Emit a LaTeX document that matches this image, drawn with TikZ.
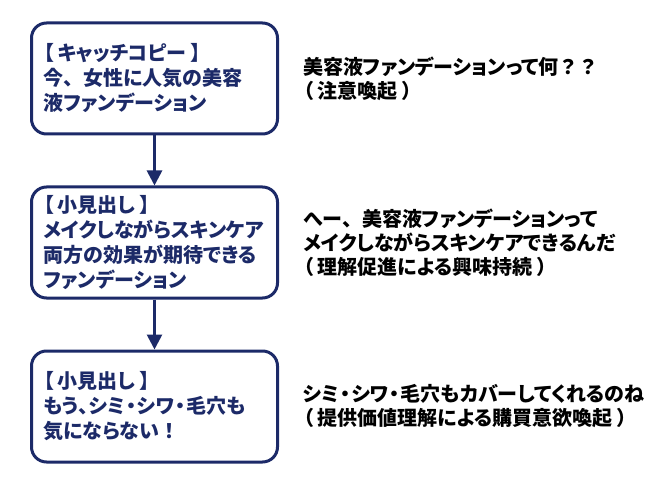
\documentclass[tikz,border=0pt]{standalone}
\usepackage{fontspec}
\setmainfont{Noto Sans CJK JP}[RawFeature=+palt]
\newfontfamily\zwfont{Noto Sans CJK JP}
\newcommand{\zw}[1]{{\zwfont #1}}
\newcommand{\lk}[1]{#1\hspace{.2em}}
\newcommand{\rk}[1]{\hspace{.25em}#1}
\newcommand{\nk}{\hspace{.05em}・\hspace{.05em}}
\usepackage{tikz}
\usetikzlibrary{arrows.meta,positioning}
\definecolor{navy}{RGB}{28,42,104}
\tikzset{
	box/.style={draw=navy,line width=3pt,rounded corners=15pt,minimum width=246pt,minimum height=111pt,
		inner xsep=12pt,text width=222pt,align=left,text=navy,font=\bfseries\fontsize{20}{25}\selectfont},
	note/.style={inner sep=0pt,align=left,text=black,font=\bfseries\fontsize{20}{24}\selectfont},
	flow/.style={color=navy,line width=2.7pt,-{Triangle[width=15pt,length=15pt]}}
}
\begin{document}
\begin{tikzpicture}[x=1pt,y=-1pt]
		\useasboundingbox (0,0) rectangle (670,484);
		
		\node[box] (A) at (154.5,78.5) {\lk{【}キャッチコピー\rk{】}\\今\zw{、}女性に人気の美容\\液ファンデーション};
		\node[box,below=50pt of A] (B) {\lk{【}小見出し\rk{】}\\メイクしながらスキンケア\\両方の効果が期待できる\\ファンデーション};
		\node[box,below=50pt of B] (C) {\lk{【}小見出し\rk{】}\\もう、シミ\nk シワ\nk 毛穴も\\気にならない\zw{！}};
		\draw[flow] (A)--(B);
		\draw[flow] (B)--(C);
		
		\node[note,right=24pt of A] (U) {美容液ファンデーションって何\zw{？？}\\\lk{（}注意喚起\rk{）}};
		\node[note,right=24pt of B] (V) {へー\zw{、}美容液ファンデーションって\\メイクしながらスキンケアできるんだ\\\lk{（}理解促進による興味持続\rk{）}};
		\node[note,right=24pt of C] (W) {シミ\nk シワ\nk 毛穴もカバーしてくれるのね\\\lk{（}提供価値理解による購買意欲喚起\rk{）}};
		
	\end{tikzpicture}
\end{document}
